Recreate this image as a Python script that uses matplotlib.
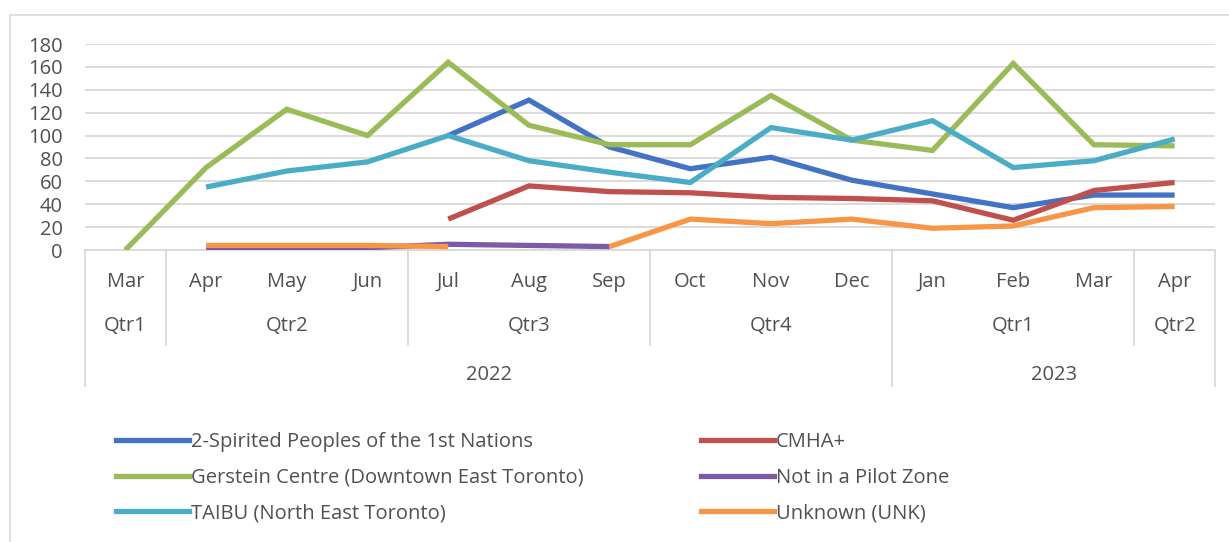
import numpy as np
import matplotlib
matplotlib.use("Agg")
import matplotlib.pyplot as plt
from matplotlib.lines import Line2D
from matplotlib.patches import Rectangle

plt.rcParams['font.family'] = ['Open Sans', 'DejaVu Sans']

months = ["Mar", "Apr", "May", "Jun", "Jul", "Aug", "Sep", "Oct", "Nov", "Dec",
          "Jan", "Feb", "Mar", "Apr"]
quarters = [("Qtr1", 0, 0), ("Qtr2", 1, 3), ("Qtr3", 4, 6), ("Qtr4", 7, 9),
            ("Qtr1", 10, 12), ("Qtr2", 13, 13)]
years = [("2022", 0, 9), ("2023", 10, 13)]

nan = np.nan
two_spirited = [nan, nan, nan, nan, 100, 131, 90, 71, 81, 61, 49, 37, 48, 48]
cmha = [nan, nan, nan, nan, 27, 56, 51, 50, 46, 45, 43, 26, 52, 59]
gerstein = [0, 72, 123, 100, 164, 109, 92, 92, 135, 96, 87, 163, 92, 91]
not_pilot = [nan, 2, 0, 2, 5, 4, 3, nan, nan, nan, nan, nan, nan, nan]
taibu = [nan, 55, 69, 77, 100, 78, 68, 59, 107, 96, 113, 72, 78, 97]
unknown = [nan, 4, 4, 4, 3, nan, 3, 27, 23, 27, 19, 21, 37, 38]

series = [
    ("2-Spirited Peoples of the 1st Nations", two_spirited, "#4472C4"),
    ("CMHA+", cmha, "#C0504D"),
    ("Gerstein Centre (Downtown East Toronto)", gerstein, "#9BBB59"),
    ("Not in a Pilot Zone", not_pilot, "#7B5AA6"),
    ("TAIBU (North East Toronto)", taibu, "#4BACC6"),
    ("Unknown (UNK)", unknown, "#F79646"),
]

W, H = 1229, 542
fig = plt.figure(figsize=(W / 100, H / 100), dpi=100)
fig.patch.set_facecolor("white")

fs = 14.5

# outer chart frame
fig.patches.append(Rectangle((10 / W, -0.05), 1.2, 1 - 15 / H + 0.05,
                             transform=fig.transFigure, fill=False,
                             edgecolor="#D9D9D9", lw=1.2))

left, right, top, bottom = 85, 1215, 44, 250
ax = fig.add_axes([left / W, 1 - bottom / H, (right - left) / W, (bottom - top) / H])
ax.set_facecolor("none")

x = np.arange(len(months))
for name, vals, col in series:
    ax.plot(x, vals, color=col, lw=3.8, solid_capstyle="butt",
            solid_joinstyle="miter", label=name, zorder=3)

ax.set_xlim(-0.5, len(months) - 0.5)
ax.set_ylim(0, 180)
ax.set_yticks(np.arange(0, 181, 20))
txtcol = "#505050"
ax.tick_params(axis="y", length=0, labelsize=fs, colors=txtcol, pad=16)
ax.set_xticks([])
ax.grid(axis="y", color="#D9D9D9", lw=1.3)
ax.set_axisbelow(True)
for s in ["top", "right", "left"]:
    ax.spines[s].set_visible(False)
ax.spines["bottom"].set_color("#D9D9D9")
ax.spines["bottom"].set_linewidth(1.3)

axh = bottom - top
def yf(py):
    return -(py - bottom) / axh

tr = ax.get_xaxis_transform()
for i, m in enumerate(months):
    ax.text(i, yf(282), m, transform=tr, ha="center", va="center",
            fontsize=fs, color=txtcol)
for q, a, b in quarters:
    ax.text((a + b) / 2, yf(326), q, transform=tr, ha="center", va="center",
            fontsize=fs, color=txtcol)
for yname, a, b in years:
    ax.text((a + b) / 2, yf(375), yname, transform=tr, ha="center", va="center",
            fontsize=fs, color=txtcol)

# category axis separators
qtr_bounds = [0.5, 3.5, 6.5, 12.5]
year_bounds = [-0.5, 9.5, 13.5]
for xb in qtr_bounds:
    ax.add_line(Line2D([xb, xb], [0, yf(345)], transform=tr, color="#D9D9D9",
                       lw=1.3, clip_on=False))
for xb in year_bounds:
    ax.add_line(Line2D([xb, xb], [0, yf(386)], transform=tr, color="#D9D9D9",
                       lw=1.3, clip_on=False))

handles = {name: Line2D([], [], color=col, lw=3.8) for name, _, col in series}
col1 = [series[0][0], series[2][0], series[4][0]]
col2 = [series[1][0], series[3][0], series[5][0]]
common = dict(frameon=False, fontsize=fs, handlelength=3.6, handletextpad=0.1,
              labelspacing=0.78, borderaxespad=0, borderpad=0, labelcolor=txtcol)
leg1 = fig.legend([handles[n] for n in col1], col1, loc="upper left",
                  bbox_to_anchor=(116 / W, 1 - 432 / H), **common)
leg2 = fig.legend([handles[n] for n in col2], col2, loc="upper left",
                  bbox_to_anchor=(701 / W, 1 - 432 / H), **common)

fig.savefig("out.png", dpi=100, facecolor="white")
